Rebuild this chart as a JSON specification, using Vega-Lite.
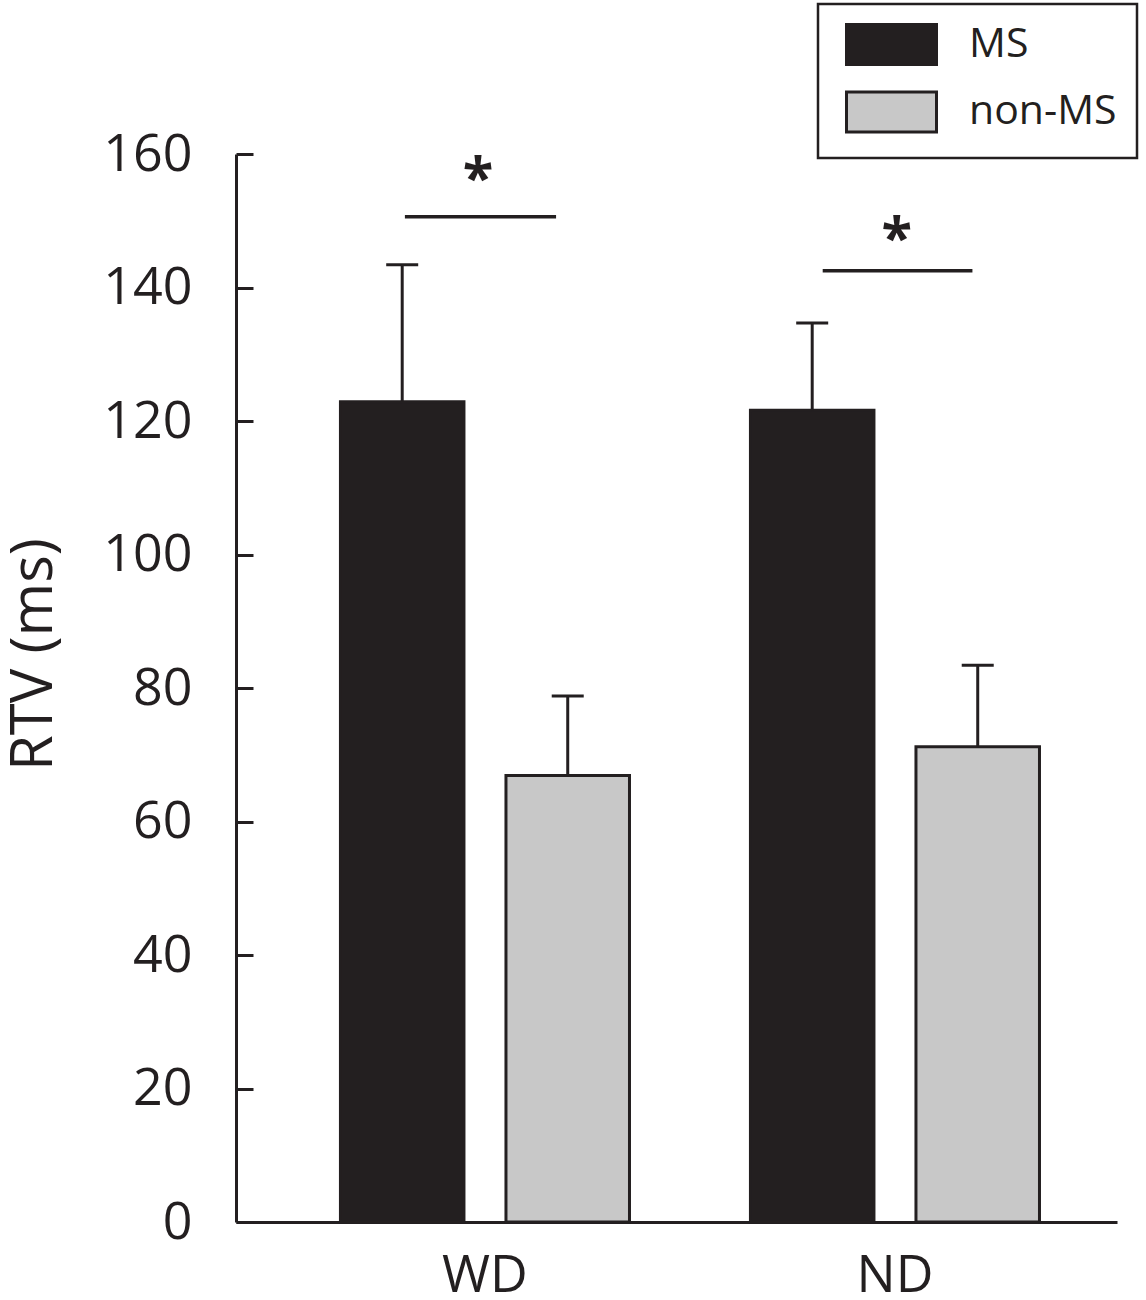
{
  "$schema": "https://vega.github.io/schema/vega-lite/v6.json",
  "width": 881,
  "height": 1068,
  "autosize": {"type": "none"},
  "padding": {"left": 236, "top": 154, "right": 29, "bottom": 78},
  "background": "white",
  "datasets": {
    "bars": [
      {"group": "WD", "cond": "MS", "value": 122.9, "err": 143.4},
      {"group": "WD", "cond": "non-MS", "value": 66.9, "err": 78.8},
      {"group": "ND", "cond": "MS", "value": 121.6, "err": 134.7},
      {"group": "ND", "cond": "non-MS", "value": 71.2, "err": 83.4}
    ],
    "sig": [
      {"group": "WD", "level": 150.6, "label": "*"},
      {"group": "ND", "level": 142.5, "label": "*"}
    ]
  },
  "config": {
    "view": {"stroke": null},
    "font": "Open Sans",
    "axis": {
      "grid": false,
      "domainColor": "#231f20",
      "domainWidth": 3,
      "tickColor": "#231f20",
      "tickWidth": 3,
      "labelColor": "#231f20",
      "titleColor": "#231f20",
      "labelFont": "Open Sans",
      "titleFont": "Open Sans",
      "titleFontWeight": "normal"
    }
  },
  "layer": [
    {
      "data": {"name": "bars"},
      "layer": [
        {
          "mark": {"type": "bar", "stroke": "#231f20", "strokeWidth": 3},
          "encoding": {
            "x": {
              "field": "group",
              "type": "nominal",
              "scale": {"domain": ["WD", "ND"], "paddingInner": 0.295, "paddingOuter": 0.2219, "align": 0.574},
              "axis": {
                "title": null,
                "ticks": false,
                "tickSize": 0,
                "labelAngle": 0,
                "labelFontSize": 52,
                "labelBaseline": "alphabetic",
                "labelPadding": 69,
                "labelDx": -5
              }
            },
            "xOffset": {
              "field": "cond",
              "type": "nominal",
              "scale": {"domain": ["MS", "non-MS"], "paddingInner": 0.2538, "paddingOuter": 0}
            },
            "y": {
              "field": "value",
              "type": "quantitative",
              "scale": {"domain": [0, 160], "nice": false},
              "axis": {
                "title": "RTV (ms)",
                "values": [0, 20, 40, 60, 80, 100, 120, 140, 160],
                "tickSize": -17,
                "labelPadding": 61,
                "labelFontSize": 52,
                "titleFontSize": 58,
                "titleAngle": -90,
                "titleAlign": "center",
                "titleBaseline": "alphabetic",
                "titleX": -185,
                "titleY": 500
              }
            },
            "fill": {
              "field": "cond",
              "type": "nominal",
              "scale": {"domain": ["MS", "non-MS"], "range": ["#231f20", "#c8c8c8"]},
              "legend": {
                "title": null,
                "orient": "none",
                "legendX": 582,
                "legendY": -150,
                "direction": "vertical",
                "padding": 20,
                "rowPadding": 14.5,
                "strokeColor": "#231f20",
                "fillColor": "white",
                "symbolType": "M-2.5,-1.111L2.5,-1.111L2.5,1.111L-2.5,1.111Z",
                "symbolSize": 1296,
                "symbolStrokeColor": "#231f20",
                "symbolStrokeWidth": 3,
                "symbolOpacity": 1,
                "symbolOffset": 33,
                "labelOffset": 57,
                "labelFontSize": 41,
                "labelFont": "Open Sans",
                "labelColor": "#231f20",
                "labelLimit": 400,
                "encode": {"legend": {"update": {"strokeWidth": {"value": 2.5}}}}
              }
            }
          }
        },
        {
          "mark": {"type": "rule", "stroke": "#231f20", "strokeWidth": 3},
          "encoding": {
            "x": {"field": "group", "type": "nominal"},
            "xOffset": {"field": "cond", "type": "nominal"},
            "y": {"field": "value", "type": "quantitative"},
            "y2": {"field": "err"}
          }
        },
        {
          "mark": {"type": "tick", "orient": "horizontal", "color": "#231f20", "size": 32, "thickness": 3, "opacity": 1},
          "encoding": {
            "x": {"field": "group", "type": "nominal"},
            "xOffset": {"field": "cond", "type": "nominal"},
            "y": {"field": "err", "type": "quantitative"}
          }
        }
      ]
    },
    {
      "data": {"name": "sig"},
      "transform": [{"filter": "datum.group == 'WD'"}],
      "layer": [
        {
          "mark": {"type": "rule", "stroke": "#231f20", "strokeWidth": 3.5},
          "encoding": {
            "x": {"field": "group", "type": "nominal", "bandPosition": 0.223},
            "x2": {"field": "group", "bandPosition": 0.746},
            "y": {"field": "level", "type": "quantitative"}
          }
        },
        {
          "mark": {"type": "text", "fontSize": 56, "fontWeight": "bold", "font": "Open Sans", "color": "#231f20", "baseline": "alphabetic", "dy": -20},
          "encoding": {
            "x": {"field": "group", "type": "nominal", "bandPosition": 0.476},
            "y": {"field": "level", "type": "quantitative"},
            "text": {"field": "label"}
          }
        }
      ]
    },
    {
      "data": {"name": "sig"},
      "transform": [{"filter": "datum.group == 'ND'"}],
      "layer": [
        {
          "mark": {"type": "rule", "stroke": "#231f20", "strokeWidth": 3.5},
          "encoding": {
            "x": {"field": "group", "type": "nominal", "bandPosition": 0.25},
            "x2": {"field": "group", "bandPosition": 0.768},
            "y": {"field": "level", "type": "quantitative"}
          }
        },
        {
          "mark": {"type": "text", "fontSize": 56, "fontWeight": "bold", "font": "Open Sans", "color": "#231f20", "baseline": "alphabetic", "dy": -14},
          "encoding": {
            "x": {"field": "group", "type": "nominal", "bandPosition": 0.506},
            "y": {"field": "level", "type": "quantitative"},
            "text": {"field": "label"}
          }
        }
      ]
    }
  ]
}
